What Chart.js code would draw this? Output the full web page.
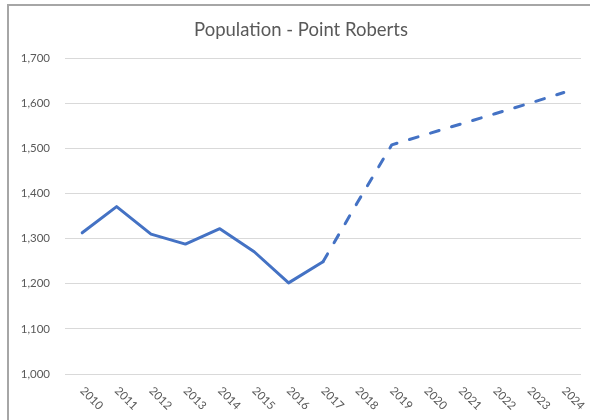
<!DOCTYPE html>
<html>
<head>
<meta charset="utf-8">
<script src="https://cdn.jsdelivr.net/npm/chart.js@4.4.1/dist/chart.umd.min.js"></script>
<style>
  html, body { margin: 0; padding: 0; background: #fff; overflow: hidden; }
  #wrap { position: relative; width: 590px; height: 420px; }
  #frame {
    position: absolute; left: 7px; top: 4px; width: 700px; height: 500px;
    border-left: 2px solid #a6a6a6; border-top: 2px solid #a6a6a6;
  }
  #chart { position: absolute; left: 0; top: 0; }
</style>
</head>
<body>
<div id="wrap">
  <div id="frame"></div>
  <canvas id="chart" width="590" height="420"></canvas>
</div>
<script>
// Data tahun dan populasi
const years = ['2010', '2011', '2012', '2013', '2014', '2015', '2016', '2017',
               '2018', '2019', '2020', '2021', '2022', '2023', '2024'];
const actual = [1313, 1371, 1310, 1288, 1322, 1271, 1202, 1249,
                null, null, null, null, null, null, null];
const projected = [null, null, null, null, null, null, null, 1249,
                   1380, 1508, 1531, 1554, 1577, 1600, 1624];
const yMin = 1000;
const yMax = 1700;
const yStep = 100;

const lineColor = '#4472C4';
const textColor = '#595959';

// Label sumbu X digambar miring ke kanan bawah seperti di Excel
const rotatedXLabels = {
    id: 'rotatedXLabels',
    afterDraw(chart) {
        const ctx = chart.ctx;
        const xScale = chart.scales.x;
        const yBase = chart.chartArea.bottom + 15;
        ctx.save();
        ctx.font = '11.5px Lato, "Open Sans", sans-serif';
        ctx.fillStyle = textColor;
        ctx.textAlign = 'left';
        ctx.textBaseline = 'middle';
        years.forEach((label, i) => {
            const x = xScale.getPixelForValue(i);
            ctx.save();
            ctx.translate(x, yBase);
            ctx.rotate(Math.PI / 4);
            ctx.fillText(label, 0, 0);
            ctx.restore();
        });
        ctx.restore();
    }
};

const ctx = document.getElementById('chart').getContext('2d');
new Chart(ctx, {
    type: 'line',
    data: {
        labels: years,
        datasets: [{
            label: 'Actual',
            data: actual,
            borderColor: lineColor,
            borderWidth: 3,
            borderCapStyle: 'round',
            borderJoinStyle: 'round',
            pointRadius: 0,
            tension: 0,
            spanGaps: false
        }, {
            label: 'Projected',
            data: projected,
            borderColor: lineColor,
            borderWidth: 3,
            borderDash: [9, 13],
            borderCapStyle: 'round',
            borderJoinStyle: 'round',
            pointRadius: 0,
            tension: 0,
            spanGaps: false
        }]
    },
    options: {
        responsive: false,
        animation: false,
        layout: {
            padding: { left: 21, right: 9, top: 0, bottom: 38 }
        },
        plugins: {
            legend: { display: false },
            tooltip: { enabled: false },
            title: {
                display: true,
                text: 'Population - Point Roberts',
                color: textColor,
                font: { family: 'Lato, "Open Sans", sans-serif', size: 18.5, weight: 'normal' },
                padding: { top: 19, bottom: 17 }
            }
        },
        scales: {
            x: {
                offset: true,
                grid: { display: false },
                border: { display: false },
                ticks: { display: false }
            },
            y: {
                min: yMin,
                max: yMax,
                grid: { color: '#d9d9d9', lineWidth: 1, drawTicks: false },
                border: { display: false },
                ticks: {
                    stepSize: yStep,
                    padding: 15,
                    color: textColor,
                    font: { family: 'Lato, "Open Sans", sans-serif', size: 11.5 },
                    callback: (v) => v.toLocaleString('en-US')
                },
                afterFit(scale) { scale.width = 44; }
            }
        }
    },
    plugins: [rotatedXLabels]
});
</script>
</body>
</html>
